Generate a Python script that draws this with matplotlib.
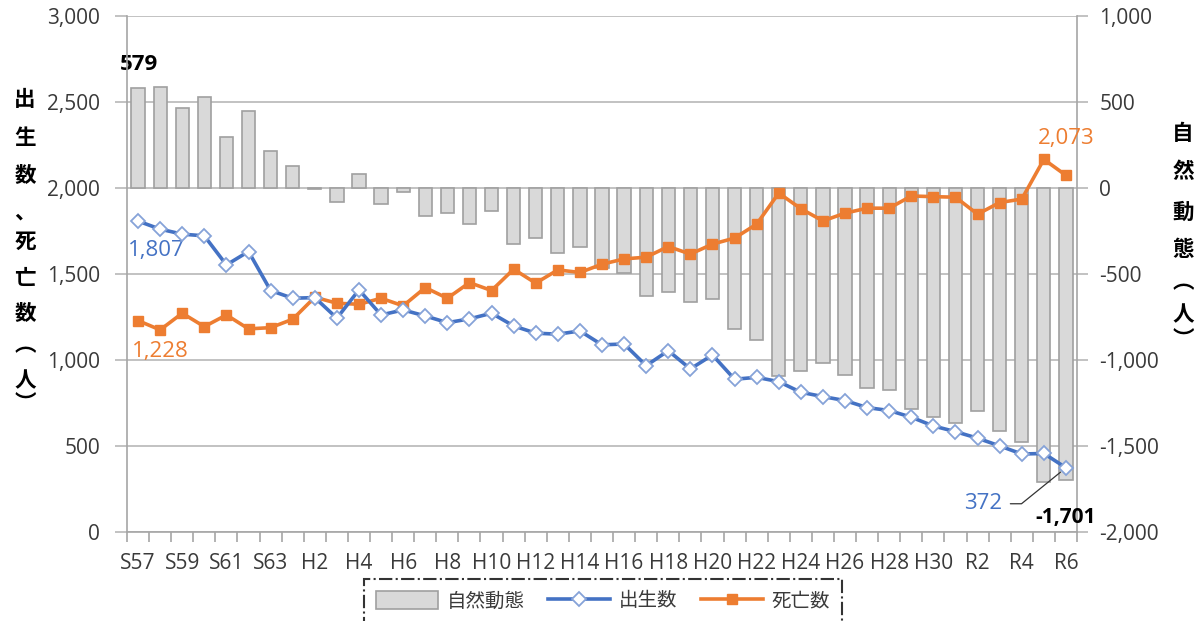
import numpy as np
import matplotlib
matplotlib.use("Agg")
import matplotlib.pyplot as plt
from matplotlib.ticker import FuncFormatter, FixedLocator

plt.rcParams['font.family'] = ['Open Sans', 'Noto Sans CJK JP', 'DejaVu Sans']
CJK = ['Noto Sans CJK JP', 'DejaVu Sans']

# Fiscal years (Showa / Heisei / Reiwa)
years = (["S57", "S58", "S59", "S60", "S61", "S62", "S63"]
         + [f"H{i}" for i in range(1, 31)]
         + [f"R{i}" for i in range(1, 7)])

# Births (left axis)
births = [1807, 1760, 1731, 1721, 1552, 1630, 1403,
          1358, 1362, 1242, 1407, 1261, 1290, 1255, 1216, 1238, 1271,
          1197, 1155, 1149, 1168, 1087, 1092, 966, 1053, 947, 1028,
          887, 898, 873, 811, 786, 763, 722, 705, 666, 615,
          582, 544, 499, 452, 455, 372]

# Deaths (left axis)
deaths = [1228, 1174, 1271, 1193, 1261, 1180, 1187,
          1236, 1364, 1329, 1323, 1358, 1314, 1420, 1358, 1449, 1403,
          1527, 1446, 1523, 1508, 1556, 1587, 1597, 1659, 1615, 1673,
          1708, 1789, 1970, 1879, 1808, 1853, 1882, 1882, 1953, 1949,
          1946, 1847, 1915, 1935, 2166, 2073]

# Natural change (right axis)
natural = [579, 588, 466, 529, 294, 448, 216,
           127, -7, -84, 80, -95, -22, -162, -144, -211, -134,
           -327, -293, -376, -343, -465, -495, -630, -603, -664, -645,
           -822, -884, -1097, -1068, -1019, -1087, -1162, -1176, -1284, -1334,
           -1366, -1297, -1414, -1480, -1712, -1701]

BLUE = '#4472c4'
ORANGE = '#ed7d31'
GRID = '#b8b8b8'
SPINE = '#a6a6a6'
TICKTXT = '#3a3a3a'

fig = plt.figure(figsize=(12.04, 6.21), dpi=100)
ax = fig.add_axes([127 / 1204, 1 - 531.7 / 621, (1077 - 127) / 1204, (531.7 - 16) / 621])
ax2 = ax.twinx()
ax.set_zorder(ax2.get_zorder() + 1)
ax.patch.set_visible(False)

x = np.arange(len(years))

# bars: natural change on the right scale
ax2.bar(x, natural, width=0.6, color='#d9d9d9', edgecolor='#a0a0a0',
        linewidth=1.2, zorder=2, label='自然動態')
ax2.set_ylim(-2000, 1000)
ax2.set_yticks(np.arange(-2000, 1001, 500))
ax2.yaxis.grid(True, color=GRID, linewidth=1.2)
ax2.set_axisbelow(True)

# lines: births and deaths on the left scale
l_birth, = ax.plot(x, births, color=BLUE, lw=2.6, marker='D', ms=7.5,
                   mfc='white', mec='#86a3d8', mew=1.3, zorder=4, label='出生数')
l_death, = ax.plot(x, deaths, color=ORANGE, lw=2.6, marker='s', ms=7,
                   mfc=ORANGE, mec=ORANGE, zorder=3, label='死亡数')
ax.set_ylim(0, 3000)
ax.set_yticks(np.arange(0, 3001, 500))
ax.set_xlim(-0.5, len(years) - 0.5)

fmt = FuncFormatter(lambda v, p: f"{int(v):,}")
ax.yaxis.set_major_formatter(fmt)
ax2.yaxis.set_major_formatter(fmt)

# x ticks: labels every other year, small marks between categories
ax.set_xticks(x[::2])
ax.set_xticklabels(years[::2])
ax.xaxis.set_minor_locator(FixedLocator(np.arange(-0.5, len(years), 1)))
ax.tick_params(axis='x', which='major', length=0, pad=15, labelsize=15, labelcolor=TICKTXT)
ax.tick_params(axis='x', which='minor', length=7, width=1.2, color=SPINE, direction='out')
ax.tick_params(axis='y', length=9, width=1.2, color=GRID, pad=10.5, labelsize=15, labelcolor=TICKTXT)
ax2.tick_params(axis='y', length=8, width=1.2, color=GRID, pad=8, labelsize=15, labelcolor=TICKTXT)

for s in ['top', 'right']:
    ax.spines[s].set_visible(False)
for s in ['top', 'left', 'bottom']:
    ax2.spines[s].set_visible(False)
ax.spines['left'].set_color(SPINE)
ax.spines['bottom'].set_color(SPINE)
ax2.spines['right'].set_color(SPINE)
for s in [ax.spines['left'], ax.spines['bottom'], ax2.spines['right']]:
    s.set_linewidth(1.2)

# value labels
ax2.annotate(f"{natural[0]:,}", xy=(x[0], natural[0]), xytext=(1, 24),
             textcoords='offset pixels', ha='center', va='center',
             fontsize=16, fontweight='bold', color='black')
ax2.annotate(f"{natural[-1]:,}", xy=(x[-1], natural[-1]), xytext=(0, -37),
             textcoords='offset pixels', ha='center', va='center',
             fontsize=15, fontweight='bold', color='black')
ax.annotate(f"{births[0]:,}", xy=(x[0], births[0]), xytext=(18, -29),
            textcoords='offset pixels', ha='center', va='center',
            fontsize=16, color=BLUE)
ax.annotate(f"{deaths[0]:,}", xy=(x[0], deaths[0]), xytext=(22, -31),
            textcoords='offset pixels', ha='center', va='center',
            fontsize=16, color=ORANGE)
ax.annotate(f"{deaths[-1]:,}", xy=(x[-1], deaths[-1]), xytext=(0, 37),
            textcoords='offset pixels', ha='center', va='center',
            fontsize=16, color=ORANGE)
ax.annotate(f"{births[-1]:,}", xy=(x[-1], births[-1]), xytext=(-83, -36),
            textcoords='offset pixels', ha='center', va='center',
            fontsize=16, color=BLUE,
            arrowprops=dict(arrowstyle='-', color='#333333', lw=0.9,
                            relpos=(1, 0.5), shrinkA=4, shrinkB=5,
                            connectionstyle='angle,angleA=0,angleB=39,rad=0'))

# vertical axis titles, one character per line
left_chars = ['出', '生', '数', '、', '死', '亡', '数', '︵', '人', '︶']
left_y = [100, 138, 176, 212, 241, 278, 314, 345, 381, 404]
for ch, yy in zip(left_chars, left_y):
    fig.text(25 / 1204, 1 - yy / 621, ch, ha='center', va='center',
             fontsize=15.5, fontweight='bold', color='black', family=CJK)
right_chars = ['自', '然', '動', '態', '︵', '人', '︶']
right_y = [133, 172, 212, 250, 282, 315, 340]
for ch, yy in zip(right_chars, right_y):
    fig.text(1183 / 1204, 1 - yy / 621, ch, ha='center', va='center',
             fontsize=15.5, fontweight='bold', color='black', family=CJK)

# legend
bar_handle = plt.Rectangle((0, 0), 1, 1, facecolor='#d9d9d9', edgecolor='#a0a0a0', linewidth=1.2)
leg = fig.legend([bar_handle, l_birth, l_death], ['自然動態', '出生数', '死亡数'],
                 loc='center', bbox_to_anchor=(603 / 1204, 1 - 601 / 621),
                 ncol=3, frameon=True, fancybox=False,
                 prop={'family': CJK, 'size': 14},
                 handlelength=3.2, handleheight=1.0, columnspacing=1.2,
                 borderpad=0.6, handletextpad=0.45)
frame = leg.get_frame()
frame.set_edgecolor('black')
frame.set_linewidth(1.5)
frame.set_linestyle('-.')
for t in leg.get_texts():
    t.set_color(TICKTXT)

fig.savefig('out.png', dpi=100, facecolor='white')
